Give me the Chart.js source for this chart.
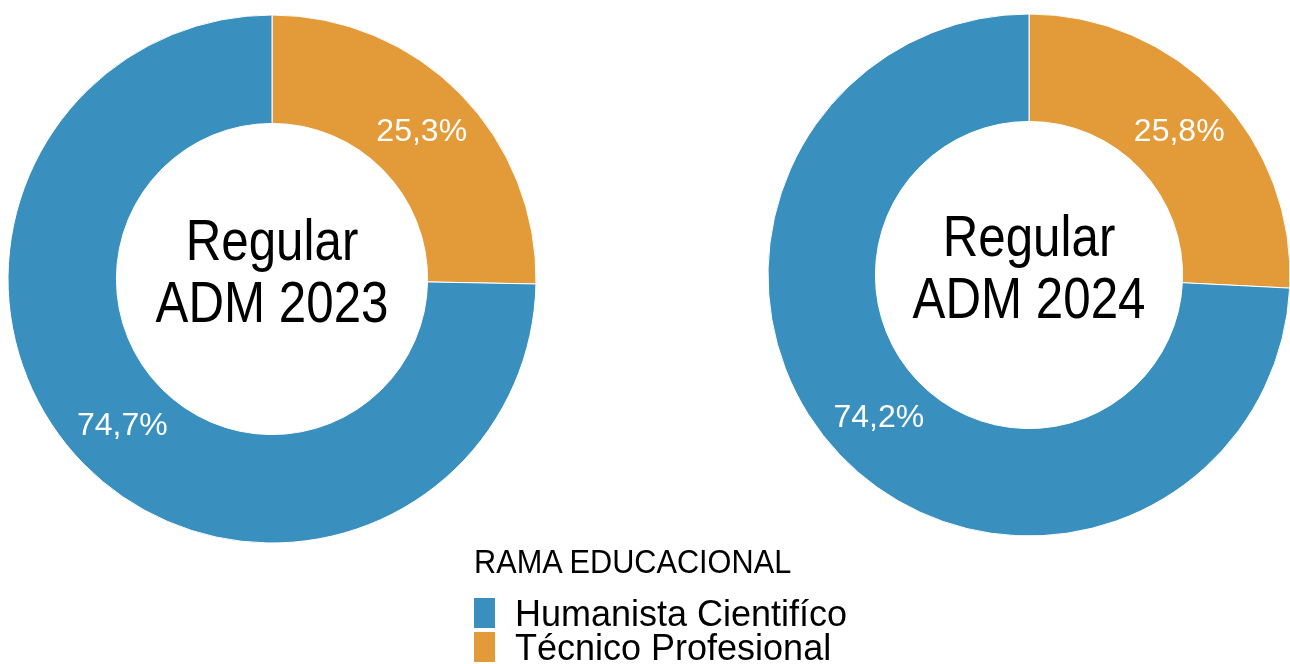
<!DOCTYPE html>
<html lang="es">
<head>
<meta charset="utf-8">
<title>Rama educacional</title>
<script src="https://cdn.jsdelivr.net/npm/chart.js@4.4.1/dist/chart.umd.min.js"></script>
<style>
  html, body { margin: 0; padding: 0; background: #fff; }
  body { position: relative; width: 1290px; height: 664px; overflow: hidden; font-family: "Liberation Sans", Arial, sans-serif; }
  canvas { position: absolute; }
  #chart2023 { left: 0; top: 0; }
  #chart2024 { left: 760px; top: 0; }
  #legend { position: absolute; left: 474px; top: 545px; color: #000; }
  #legend .title { font-size: 33px; line-height: 33px; white-space: nowrap; transform: scaleX(0.93); transform-origin: left top; }
  #legend .items { margin-top: 20px; }
  #legend .item { position: relative; height: 34px; font-size: 36px; line-height: 34px; white-space: nowrap; }
  #legend .swatch { position: absolute; left: 0; top: 0; width: 21px; height: 30px; }
  #legend .label { position: absolute; left: 41px; top: -1px; }
</style>
</head>
<body>
<canvas id="chart2023" width="544" height="558"></canvas>
<canvas id="chart2024" width="538" height="550"></canvas>
<div id="legend"></div>

<script>
const legendTitle = 'RAMA EDUCACIONAL';
const categories = ['Humanista Cientifíco', 'Técnico Profesional'];
const colors = ['#3990be', '#e39b3a'];
const adm2023 = [74.7, 25.3];
const adm2024 = [74.2, 25.8];

// percentage labels drawn in the middle of each ring segment
const sliceLabels = {
    id: 'sliceLabels',
    afterDatasetsDraw(chart) {
        const {ctx} = chart;
        const meta = chart.getDatasetMeta(0);
        const values = chart.data.datasets[0].data;
        ctx.save();
        ctx.fillStyle = '#fff';
        ctx.font = '32px "Liberation Sans", Arial, sans-serif';
        ctx.textAlign = 'center';
        ctx.textBaseline = 'middle';
        meta.data.forEach((arc, i) => {
            const p = arc.tooltipPosition();
            ctx.fillText(values[i].toFixed(1).replace('.', ',') + '%', p.x, p.y);
        });
        ctx.restore();
    }
};

// two-line title inside the hole
const centerText = {
    id: 'centerText',
    afterDraw(chart, args, opts) {
        const {ctx} = chart;
        const arc = chart.getDatasetMeta(0).data[0];
        ctx.save();
        ctx.fillStyle = '#000';
        ctx.font = '58px "Liberation Sans", Arial, sans-serif';
        ctx.textAlign = 'center';
        ctx.textBaseline = 'alphabetic';
        ctx.translate(arc.x, arc.y);
        ctx.scale(0.85, 1);
        ctx.fillText(opts.lines[0], 0, -19);
        ctx.fillText(opts.lines[1], 0, 43);
        ctx.restore();
    }
};

function makeDonut(id, values, lines, radius, cutout) {
    // orange segment starts at 12 o'clock, so the chart order is reversed
    return new Chart(document.getElementById(id), {
        type: 'doughnut',
        data: {
            labels: categories.slice().reverse(),
            datasets: [{
                data: values.slice().reverse(),
                backgroundColor: colors.slice().reverse(),
                borderColor: '#fff',
                borderWidth: 1
            }]
        },
        options: {
            responsive: false,
            animation: false,
            radius: radius,
            cutout: cutout,
            layout: {padding: 0},
            plugins: {
                legend: {display: false},
                tooltip: {enabled: false},
                centerText: {lines}
            }
        },
        plugins: [sliceLabels, centerText]
    });
}

makeDonut('chart2023', adm2023, ['Regular', 'ADM 2023'], 264, 160);
makeDonut('chart2024', adm2024, ['Regular', 'ADM 2024'], 261, 158);

// legend
const legend = document.getElementById('legend');
legend.innerHTML = '<div class="title">' + legendTitle + '</div><div class="items">' +
    categories.map((c, i) =>
        '<div class="item"><span class="swatch" style="background:' + colors[i] + '"></span>' +
        '<span class="label">' + c + '</span></div>').join('') + '</div>';
</script>
</body>
</html>
